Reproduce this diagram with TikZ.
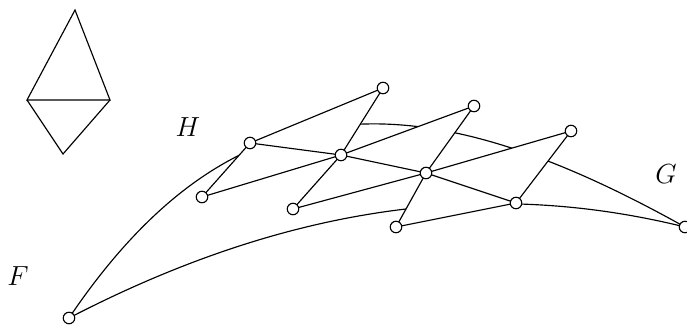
\documentclass[tikz,border=0pt]{standalone}
\begin{document}
\begin{tikzpicture}[x=0.4348pt,y=-0.4348pt,line width=0.5pt,
  vtx/.style={circle,draw,fill=white,inner sep=0pt,minimum size=5pt},
  face/.style={draw,fill=white,line join=round},
  lbl/.style={inner sep=0pt,font=\large}]
\useasboundingbox (0,0) rectangle (687,324);
% small diamond
\coordinate (t1) at (75,10);
\coordinate (t2) at (27,100);
\coordinate (t3) at (110,100);
\coordinate (t4) at (63,154);
\draw (t2) -- (t1) -- (t3) -- cycle;
\draw (t2) -- (t4) -- (t3);
% labels
\node[lbl] (H) at (188,127) {$H$};
\node[lbl] (Gl) at (666,174) {$G$};
\node[lbl] (Fl) at (18,276) {$F$};
% end coordinates
\coordinate (F) at (69,318);
\coordinate (G) at (685,227);
% curves
\draw (F) .. controls (235,72) and (424,81) .. (G);
\draw (F) .. controls (291,203) and (491,179) .. (G);
% vertices
\coordinate (a1) at (202,197);
\coordinate (a2) at (250,143);
\coordinate (a3) at (383,88);
\coordinate (a4) at (341,155);
\coordinate (b1) at (293,209);
\coordinate (b3) at (474,106);
\coordinate (b4) at (426,173);
\coordinate (c1) at (396,227);
\coordinate (c3) at (571,131);
\coordinate (c4) at (516,203);
% faces
\draw[face] (a1) -- (a2) -- (a3) -- (a4) -- cycle;
\draw[face] (b1) -- (a4) -- (b3) -- (b4) -- cycle;
\draw[face] (c1) -- (b4) -- (c3) -- (c4) -- cycle;
\draw (a2) -- (a4) -- (b4) -- (c4);
% nodes
\foreach \n in {a1,a2,a3,a4,b1,b3,b4,c1,c3,c4,F,G}
  \node[vtx] (v\n) at (\n) {};
\end{tikzpicture}
\end{document}
